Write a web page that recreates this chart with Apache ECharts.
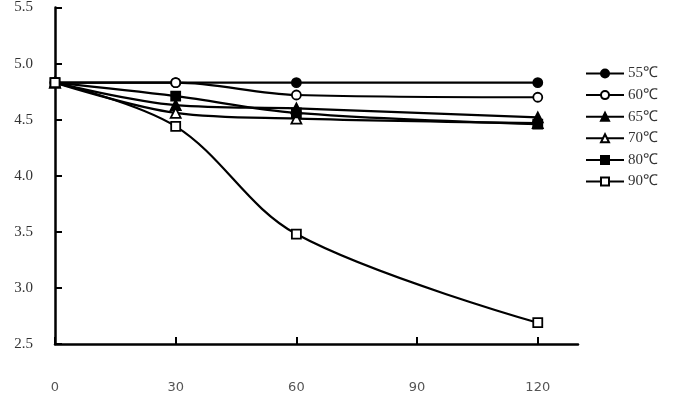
<!DOCTYPE html>
<html>
<head>
<meta charset="utf-8">
<script src="https://cdn.jsdelivr.net/npm/echarts@6/dist/echarts.min.js"></script>
<style>
  html, body { margin: 0; padding: 0; background: #fff; }
</style>
</head>
<body>
<div id="chart" style="width: 677px; height: 406px"></div>
<script>
// sampling times
const times = [0, 30, 60, 120];
const xTicks = [0, 30, 60, 90, 120];
const yTicks = [2.5, 3.0, 3.5, 4.0, 4.5, 5.0, 5.5];

const names = ["55℃", "60℃", "65℃", "70℃", "80℃", "90℃"];
const t55 = [4.83, 4.83, 4.83, 4.83];
const t60 = [4.83, 4.83, 4.72, 4.70];
const t65 = [4.83, 4.63, 4.60, 4.52];
const t70 = [4.83, 4.56, 4.51, 4.47];
const t80 = [4.83, 4.71, 4.56, 4.46];
const t90 = [4.83, 4.44, 3.48, 2.69];

const symbols = ["circle", "circle", "triangle", "triangle", "rect", "rect"];
const filled = [true, false, true, false, true, false];
const values = [t55, t60, t65, t70, t80, t90];

let myChart = echarts.init(document.getElementById("chart"));

let series = [];
for (let i = 0; i < names.length; i++) {
  series.push({
    name: names[i],
    type: "line",
    smooth: 0.35,
    data: times.map((t, j) => [t, values[i][j]]),
    symbol: symbols[i],
    symbolSize: symbols[i] == "triangle" ? 10 : 9,
    showAllSymbol: true,
    lineStyle: { color: "#000", width: 2.2 },
    itemStyle: {
      color: filled[i] ? "#000" : "#fff",
      borderColor: "#000",
      borderWidth: 1.8,
    },
    emphasis: { disabled: true },
    z: 2 + i,
  });
}

var option = {
  animation: false,
  grid: {
    left: 55,
    right: 99,
    top: 5,
    bottom: 62,
  },
  legend: {
    orient: "vertical",
    left: 585,
    top: 66,
    padding: 0,
    itemWidth: 38,
    itemHeight: 10,
    itemGap: 6.6,
    data: names,
    textStyle: {
      fontFamily: "Liberation Serif",
      fontSize: 15,
      lineHeight: 15,
      color: "#333",
      padding: [0, 0, 0, -1],
    },
  },
  xAxis: {
    type: "value",
    min: 0,
    max: 130,
    interval: 30,
    splitLine: { show: false },
    axisLine: { lineStyle: { color: "#000", width: 2.5 } },
    axisTick: {
      inside: true,
      length: 7,
      customValues: xTicks,
      lineStyle: { color: "#000", width: 2 },
    },
    axisLabel: {
      customValues: xTicks,
      margin: 37,
      fontFamily: "DejaVu Sans",
      fontSize: 13,
      color: "#555",
    },
  },
  yAxis: {
    type: "value",
    min: 2.5,
    max: 5.5,
    interval: 0.5,
    splitLine: { show: false },
    axisLine: { show: true, lineStyle: { color: "#000", width: 2.5 } },
    axisTick: {
      show: true,
      inside: true,
      length: 7,
      lineStyle: { color: "#000", width: 2 },
    },
    axisLabel: {
      margin: 22,
      fontFamily: "Liberation Serif",
      fontSize: 15,
      color: "#333",
      formatter: (v) => v.toFixed(1),
    },
  },
  series: series,
};

myChart.setOption(option);
</script>
</body>
</html>
